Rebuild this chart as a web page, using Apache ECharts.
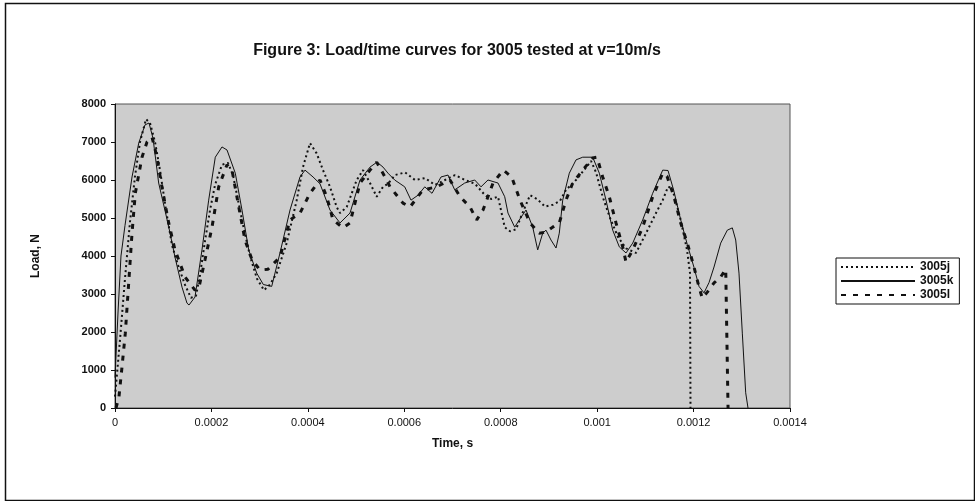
<!DOCTYPE html>
<html>
<head>
<meta charset="utf-8">
<script src="https://cdn.jsdelivr.net/npm/echarts@6/dist/echarts.min.js"></script>
<style>
html,body{margin:0;padding:0;background:#fff;}
#chart{width:975px;height:501px;}
</style>
</head>
<body>
<div id="chart"></div>
<script>
// Time (s) and load (N) for each specimen
const time_j = [0, 0.0000104, 0.0000207, 0.0000311, 0.0000415, 0.0000519, 0.0000643, 0.0000726, 0.000083, 0.0000933,
  0.0001058, 0.0001182, 0.0001307, 0.0001452, 0.0001576, 0.000168, 0.0001763, 0.0001867, 0.000197, 0.0002074,
  0.0002219, 0.0002344, 0.0002447, 0.0002551, 0.0002655, 0.00028, 0.0002945, 0.000309, 0.0003215, 0.0003354,
  0.0003561, 0.0003769, 0.0003899, 0.0004044, 0.0004183, 0.0004314, 0.0004459, 0.0004598, 0.0004667, 0.0004806,
  0.0005013, 0.0005144, 0.0005289, 0.0005428, 0.0005559, 0.0005662, 0.0005807, 0.0006015, 0.0006222, 0.000643,
  0.0006637, 0.0006845, 0.0007052, 0.000726, 0.0007467, 0.0007674, 0.0007799, 0.0007944, 0.0008083, 0.0008193,
  0.0008317, 0.0008442, 0.0008608, 0.0008753, 0.0008919, 0.0009085, 0.000923, 0.0009354, 0.0009562, 0.0009728,
  0.0009873, 0.0009977, 0.0010115, 0.0010267, 0.0010433, 0.0010599, 0.0010806, 0.0011014, 0.0011221, 0.001136,
  0.001147, 0.0011553, 0.0011733, 0.0011864, 0.0011926, 0.0011936];
const load_j = [300, 1800, 3400, 4900, 6100, 7000, 7600, 7500, 7000, 6260,
  5210, 4290, 3760, 3240, 2900, 2950, 3500, 4400, 5200, 5870,
  6400, 6450, 6130, 5470, 4820, 4000, 3400, 3100, 3250, 3550,
  4340, 5470, 6340, 6970, 6700, 6260, 5820, 5290, 5130, 5290,
  6000, 6260, 5920, 5560, 5820, 5900, 6130, 6200, 6000, 6050,
  5870, 6000, 6130, 6000, 5900, 5600, 5500, 5560, 4760, 4650,
  4700, 5100, 5600, 5500, 5300, 5350, 5450, 5740, 6000, 6260,
  6500, 6200, 5560, 5000, 4500, 4200, 4080, 4600, 5130, 5470,
  5820, 5800, 4950, 4160, 3550, 0];

const time_k = [0, 0.0000062, 0.0000124, 0.0000207, 0.0000353, 0.0000492, 0.0000622, 0.0000705, 0.0000788, 0.0000906,
  0.0001114, 0.0001244, 0.000139, 0.0001493, 0.0001535, 0.0001659, 0.0001804, 0.0001943, 0.000208, 0.0002219,
  0.0002323, 0.0002495, 0.0002634, 0.0002773, 0.0002939, 0.0003076, 0.000325, 0.0003422, 0.000363, 0.0003837,
  0.0003941, 0.0004107, 0.0004252, 0.0004459, 0.0004667, 0.0004874, 0.0005082, 0.0005289, 0.0005434, 0.0005559,
  0.0005662, 0.0005801, 0.0006009, 0.0006139, 0.0006285, 0.0006424, 0.0006575, 0.0006762, 0.0006907, 0.0007046,
  0.0007253, 0.0007461, 0.0007591, 0.0007736, 0.0007944, 0.0008083, 0.0008151, 0.000829, 0.0008427, 0.0008525,
  0.0008664, 0.0008767, 0.0008871, 0.0008939, 0.0009043, 0.0009147, 0.0009215, 0.0009286, 0.0009423, 0.0009562,
  0.0009701, 0.0009908, 0.0010045, 0.0010184, 0.0010323, 0.001046, 0.0010599, 0.0010738, 0.0010945, 0.0011152,
  0.001136, 0.001147, 0.0011594, 0.0011733, 0.001187, 0.0012009, 0.0012113, 0.0012216, 0.001232, 0.0012424,
  0.0012563, 0.00127, 0.0012804, 0.0012874, 0.0012942, 0.0013011, 0.0013081, 0.0013129];
const load_k = [800, 2500, 4000, 4800, 6080, 6970, 7450, 7500, 7100, 5920,
  4770, 3970, 3180, 2760, 2710, 2920, 4160, 5470, 6600, 6870,
  6790, 6180, 5210, 4160, 3550, 3250, 3200, 4080, 5210, 6080,
  6260, 6080, 5900, 5210, 4870, 5130, 6000, 6340, 6470, 6340,
  6180, 6000, 5820, 5470, 5600, 5820, 5650, 6080, 6130, 5740,
  5920, 6000, 5820, 6000, 5920, 5560, 5130, 4760, 5030, 5210,
  4760, 4160, 4600, 4680, 4420, 4210, 4600, 5470, 6180, 6530,
  6600, 6600, 6180, 5470, 4680, 4240, 4080, 4340, 4950, 5650,
  6260, 6250, 5700, 4950, 4300, 3700, 3200, 3030, 3300, 3710,
  4340, 4680, 4740, 4420, 3550, 1970, 400, 0];

const time_l = [0.0000021, 0.0000083, 0.0000145, 0.0000214, 0.0000284, 0.0000353, 0.0000421, 0.000056, 0.0000664, 0.0000767,
  0.0000871, 0.0000975, 0.0001114, 0.0001244, 0.0001452, 0.0001659, 0.0001742, 0.0001867, 0.0002012, 0.0002151,
  0.0002323, 0.0002427, 0.0002566, 0.0002696, 0.0002842, 0.0003007, 0.0003173, 0.0003422, 0.000363, 0.0003837,
  0.0004044, 0.0004252, 0.0004391, 0.0004522, 0.0004729, 0.0004874, 0.0005082, 0.0005289, 0.0005428, 0.0005635,
  0.0005704, 0.0005973, 0.0006119, 0.0006388, 0.0006672, 0.0006948, 0.0007156, 0.0007363, 0.0007502, 0.0007633,
  0.000784, 0.0008054, 0.0008228, 0.00084, 0.0008608, 0.00088, 0.0008939, 0.0009078, 0.0009215, 0.0009354,
  0.0009493, 0.0009701, 0.0009908, 0.0009997, 0.0010115, 0.0010252, 0.0010391, 0.001053, 0.0010599, 0.0010738,
  0.0010945, 0.0011152, 0.001136, 0.0011449, 0.0011594, 0.0011733, 0.001187, 0.0012009, 0.0012113, 0.0012181,
  0.0012285, 0.0012424, 0.0012563, 0.0012667, 0.0012704, 0.0012715];
const load_l = [0, 300, 1080, 1970, 3290, 4600, 5650, 6600, 7000, 7130,
  6600, 5800, 4870, 4160, 3450, 3100, 3180, 3900, 4760, 5820,
  6400, 6260, 5300, 4420, 3900, 3630, 3650, 3970, 4950, 5130,
  5650, 6000, 5560, 4950, 4740, 4870, 5920, 6260, 6470, 6000,
  5820, 5390, 5290, 5740, 5820, 6000, 5560, 5290, 4950, 5210,
  5920, 6260, 6080, 5470, 4870, 4600, 4630, 4760, 4870, 5470,
  5920, 6260, 6580, 6600, 6080, 5560, 4870, 4240, 3840, 4160,
  4760, 5560, 6180, 6100, 5560, 4870, 4340, 3710, 3180, 2890,
  3050, 3290, 3450, 3650, 3600, 0];

const seriesNames = ['3005j', '3005k', '3005l'];
const titleText = 'Figure 3: Load/time curves for 3005 tested at v=10m/s';
const xName = 'Time, s';
const yName = 'Load, N';

const zip = (t, v) => t.map((x, i) => [x, v[i]]);

const chart = echarts.init(document.getElementById('chart'), null, {renderer: 'canvas'});
const fontFam = '"Liberation Sans", Arial, sans-serif';
chart.setOption({
  backgroundColor: '#ffffff',
  animation: false,
  title: {
    text: titleText, left: 452, top: 38, textAlign: 'center',
    textStyle: {fontFamily: fontFam, fontSize: 16, fontWeight: 'bold', color: '#111'}
  },
  graphic: [
    {type: 'rect', left: 3, top: 1, shape: {width: 969, height: 497},
     style: {fill: 'none', stroke: '#111', lineWidth: 1.5}, silent: true}
  ],
  grid: {left: 115, right: 185, top: 104, bottom: 93, show: true,
         backgroundColor: '#cdcdcd', borderColor: '#555', borderWidth: 1},
  legend: {
    orient: 'vertical', left: 836, top: 258, itemGap: 2, itemWidth: 74, itemHeight: 9,
    padding: [3, 6, 3, 4],
    borderColor: '#111', borderWidth: 1, backgroundColor: '#fff',
    data: seriesNames,
    itemStyle: {opacity: 0},
    textStyle: {fontFamily: fontFam, fontSize: 12, fontWeight: 'bold', color: '#111', padding: [0, 0, 0, 0]}
  },
  xAxis: {
    type: 'value', min: 0, max: 0.0014, interval: 0.0002,
    name: xName, nameLocation: 'middle', nameGap: 30,
    nameTextStyle: {fontFamily: fontFam, fontSize: 12, fontWeight: 'bold', color: '#111'},
    axisLine: {show: true, lineStyle: {color: '#111', width: 1}},
    axisTick: {show: true, length: 4, lineStyle: {color: '#111'}},
    splitLine: {show: false},
    axisLabel: {fontFamily: fontFam, fontSize: 11, color: '#111', margin: 9,
      formatter: v => String(+v.toFixed(4))}
  },
  yAxis: {
    type: 'value', min: 0, max: 8000, interval: 1000,
    name: yName, nameLocation: 'middle', nameGap: 73, nameRotate: 90,
    nameTextStyle: {fontFamily: fontFam, fontSize: 12, fontWeight: 'bold', color: '#111'},
    axisLine: {show: true, lineStyle: {color: '#111', width: 1}},
    axisTick: {show: true, length: 4, lineStyle: {color: '#111'}},
    splitLine: {show: false},
    axisLabel: {fontFamily: fontFam, fontSize: 11, fontWeight: 'bold', color: '#111', margin: 9,
      formatter: v => String(v)}
  },
  series: [
    {name: seriesNames[0], type: 'line', showSymbol: false, symbol: 'none', data: zip(time_j, load_j),
     lineStyle: {color: '#111', width: 2, type: [2, 3]}, itemStyle: {color: '#111'}},
    {name: seriesNames[1], type: 'line', showSymbol: false, symbol: 'none', data: zip(time_k, load_k),
     lineStyle: {color: '#111', width: 1, type: 'solid'}, itemStyle: {color: '#111'}},
    {name: seriesNames[2], type: 'line', showSymbol: false, symbol: 'none', data: zip(time_l, load_l),
     lineStyle: {color: '#111', width: 3, type: [5, 7]}, itemStyle: {color: '#111'}}
  ]
});
</script>
</body>
</html>
